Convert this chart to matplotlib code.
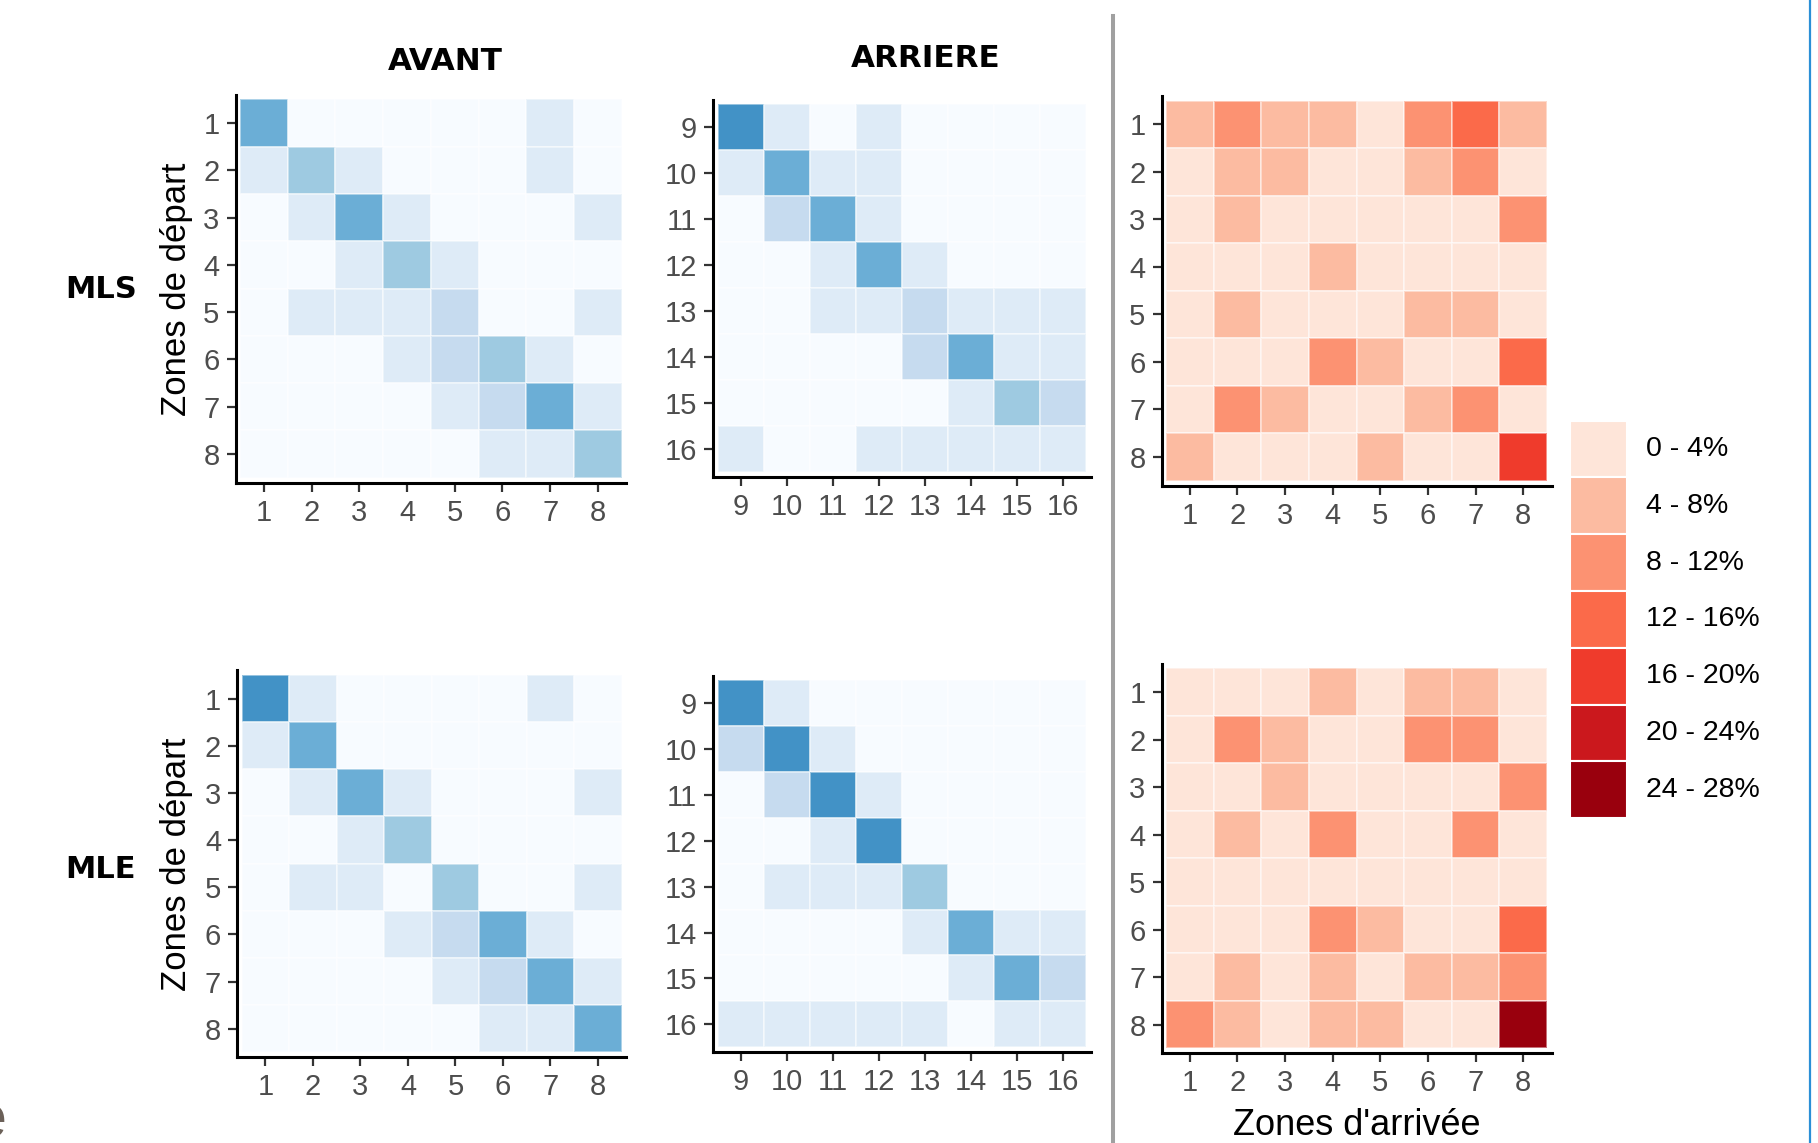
import numpy as np
import matplotlib
matplotlib.use("Agg")
import matplotlib.pyplot as plt
from matplotlib.colors import ListedColormap, BoundaryNorm
from matplotlib.patches import Rectangle
from matplotlib.lines import Line2D

W, H = 1818, 1143
DPI = 100

# ---------------- data ----------------
zones_avant = ["1", "2", "3", "4", "5", "6", "7", "8"]
zones_arriere = ["9", "10", "11", "12", "13", "14", "15", "16"]

# blue panels: intensity class (0 = lightest ... 5 = darkest)
mls_avant = [
    [4, 0, 0, 0, 0, 0, 1, 0],
    [1, 3, 1, 0, 0, 0, 1, 0],
    [0, 1, 4, 1, 0, 0, 0, 1],
    [0, 0, 1, 3, 1, 0, 0, 0],
    [0, 1, 1, 1, 2, 0, 0, 1],
    [0, 0, 0, 1, 2, 3, 1, 0],
    [0, 0, 0, 0, 1, 2, 4, 1],
    [0, 0, 0, 0, 0, 1, 1, 3],
]
mls_arriere = [
    [5, 1, 0, 1, 0, 0, 0, 0],
    [1, 4, 1, 1, 0, 0, 0, 0],
    [0, 2, 4, 1, 0, 0, 0, 0],
    [0, 0, 1, 4, 1, 0, 0, 0],
    [0, 0, 1, 1, 2, 1, 1, 1],
    [0, 0, 0, 0, 2, 4, 1, 1],
    [0, 0, 0, 0, 0, 1, 3, 2],
    [1, 0, 0, 1, 1, 1, 1, 1],
]
mle_avant = [
    [5, 1, 0, 0, 0, 0, 1, 0],
    [1, 4, 0, 0, 0, 0, 0, 0],
    [0, 1, 4, 1, 0, 0, 0, 1],
    [0, 0, 1, 3, 0, 0, 0, 0],
    [0, 1, 1, 0, 3, 0, 0, 1],
    [0, 0, 0, 1, 2, 4, 1, 0],
    [0, 0, 0, 0, 1, 2, 4, 1],
    [0, 0, 0, 0, 0, 1, 1, 4],
]
mle_arriere = [
    [5, 1, 0, 0, 0, 0, 0, 0],
    [2, 5, 1, 0, 0, 0, 0, 0],
    [0, 2, 5, 1, 0, 0, 0, 0],
    [0, 0, 1, 5, 0, 0, 0, 0],
    [0, 1, 1, 1, 3, 0, 0, 0],
    [0, 0, 0, 0, 1, 4, 1, 1],
    [0, 0, 0, 0, 0, 1, 4, 2],
    [1, 1, 1, 1, 1, 0, 1, 1],
]

# red panels: percentage (%)
mls_pct = [
    [6, 10, 6, 6, 2, 10, 14, 6],
    [2, 6, 6, 2, 2, 6, 10, 2],
    [2, 6, 2, 2, 2, 2, 2, 10],
    [2, 2, 2, 6, 2, 2, 2, 2],
    [2, 6, 2, 2, 2, 6, 6, 2],
    [2, 2, 2, 10, 6, 2, 2, 14],
    [2, 10, 6, 2, 2, 6, 10, 2],
    [6, 2, 2, 2, 6, 2, 2, 18],
]
mle_pct = [
    [2, 2, 2, 6, 2, 6, 6, 2],
    [2, 10, 6, 2, 2, 10, 10, 2],
    [2, 2, 6, 2, 2, 2, 2, 10],
    [2, 6, 2, 10, 2, 2, 10, 2],
    [2, 2, 2, 2, 2, 2, 2, 2],
    [2, 2, 2, 10, 6, 2, 2, 14],
    [2, 6, 2, 6, 2, 6, 6, 10],
    [10, 6, 2, 6, 6, 2, 2, 26],
]

legend_labels = ["0 - 4%", "4 - 8%", "8 - 12%", "12 - 16%", "16 - 20%", "20 - 24%", "24 - 28%"]
pct_bounds = [0, 4, 8, 12, 16, 20, 24, 28]

blues = ["#f7fbff", "#deebf7", "#c6dbef", "#9ecae1", "#6baed6", "#4292c6"]
reds = ["#fee5d9", "#fcbba1", "#fc9272", "#fb6a4a", "#ef3b2c", "#cb181d", "#99000d"]

blue_cmap = ListedColormap(blues)
blue_norm = BoundaryNorm(np.arange(-0.5, len(blues) + 0.5, 1), len(blues))
red_cmap = ListedColormap(reds)
red_norm = BoundaryNorm(pct_bounds, len(reds))

plt.rcParams["font.family"] = ["Liberation Sans", "DejaVu Sans"]

fig = plt.figure(figsize=(W / DPI, H / DPI), dpi=DPI)
fig.patch.set_facecolor("white")


def panel(data, labels, box, cmap, norm):
    x0, y0, x1, y1 = box
    n = len(labels)
    ux = n / (x1 - x0)
    uy = n / (y1 - y0)
    ml, mr, mt, mb = 4.5, 4.5, 4.5, 5.0
    ax = fig.add_axes([(x0 - ml) / W, 1 - (y1 + mb) / H,
                       (x1 - x0 + ml + mr) / W, (y1 - y0 + mt + mb) / H])
    edges = np.arange(n + 1) + 0.5
    ax.pcolormesh(edges, edges, np.array(data), cmap=cmap, norm=norm,
                  edgecolors=(1, 1, 1, 0.45), linewidth=0.3)
    ax.set_xlim(0.5 - ml * ux, n + 0.5 + mr * ux)
    ax.set_ylim(n + 0.5 + mb * uy, 0.5 - mt * uy)
    ax.set_xticks(np.arange(1, n + 1))
    ax.set_yticks(np.arange(1, n + 1))
    ax.set_xticklabels(labels)
    ax.set_yticklabels(labels)
    for s in ["top", "right"]:
        ax.spines[s].set_visible(False)
    for s in ["left", "bottom"]:
        ax.spines[s].set_linewidth(2.2)
        ax.spines[s].set_color("black")
    ax.tick_params(length=6.5, width=1.6, color="#333333", labelsize=21,
                   labelcolor="#4d4d4d", pad=5)
    ax.set_facecolor("white")
    return ax


panel(mls_avant, zones_avant, (240, 99.3, 621.7, 477.7), blue_cmap, blue_norm)
panel(mls_arriere, zones_arriere, (717.7, 104.3, 1086, 471.7), blue_cmap, blue_norm)
panel(mls_pct, zones_avant, (1166, 100.7, 1547, 480.7), red_cmap, red_norm)
panel(mle_avant, zones_avant, (241.7, 675, 621.7, 1052.3), blue_cmap, blue_norm)
panel(mle_arriere, zones_arriere, (717.7, 680, 1086, 1047.3), blue_cmap, blue_norm)
panel(mle_pct, zones_avant, (1166, 668.3, 1547, 1048.3), red_cmap, red_norm)


def ftext(x, y, s, **kw):
    fig.text(x / W, 1 - y / H, s, **kw)


bold = dict(family=["DejaVu Sans"], fontweight="bold", color="black")
ftext(445, 62, "AVANT", ha="center", va="center", fontsize=22.3, **bold)
ftext(926, 58.4, "ARRIERE", ha="center", va="center", fontsize=22.3, **bold)
ftext(101, 289.5, "MLS", ha="center", va="center", fontsize=22, **bold)
ftext(100, 869, "MLE", ha="center", va="center", fontsize=22, **bold)

ftext(176.5, 289, "Zones de départ", ha="center", va="center", rotation=90,
      fontsize=25, color="black")
ftext(176.5, 864, "Zones de départ", ha="center", va="center", rotation=90,
      fontsize=25, color="black")
ftext(1356.5, 1135, "Zones d'arrivée", ha="center", va="baseline",
      fontsize=26, color="black")

# legend
lx0, ly0, lx1, ly1 = 1570, 420.7, 1626.7, 818.3
lax = fig.add_axes([lx0 / W, 1 - ly1 / H, (lx1 - lx0) / W, (ly1 - ly0) / H])
lax.set_xlim(0, 1)
lax.set_ylim(len(reds), 0)
lax.axis("off")
for i, (c, lab) in enumerate(zip(reds, legend_labels)):
    lax.add_patch(Rectangle((0, i), 1, 1, facecolor=c, edgecolor="white",
                            linewidth=1.5))
    lax.text((1646 - lx0) / (lx1 - lx0), i + 0.5, lab, ha="left", va="center",
             fontsize=20.5, color="black")

# separators / frame lines
fig.add_artist(Line2D([1113.3 / W, 1113.3 / W], [1 - 15.7 / H, 0],
                      color="#a0a0a0", linewidth=2.9))
fig.add_artist(Line2D([1809.5 / W, 1809.5 / W], [0, 1],
                      color="#2b8fd6", linewidth=1.6))

# cut-off glyph at the bottom-left edge (as in the source slide)
ftext(6, 1137, "e", ha="right", va="baseline", fontsize=44, color="#6b6058")

fig.savefig("out.png", dpi=DPI, facecolor="white")
